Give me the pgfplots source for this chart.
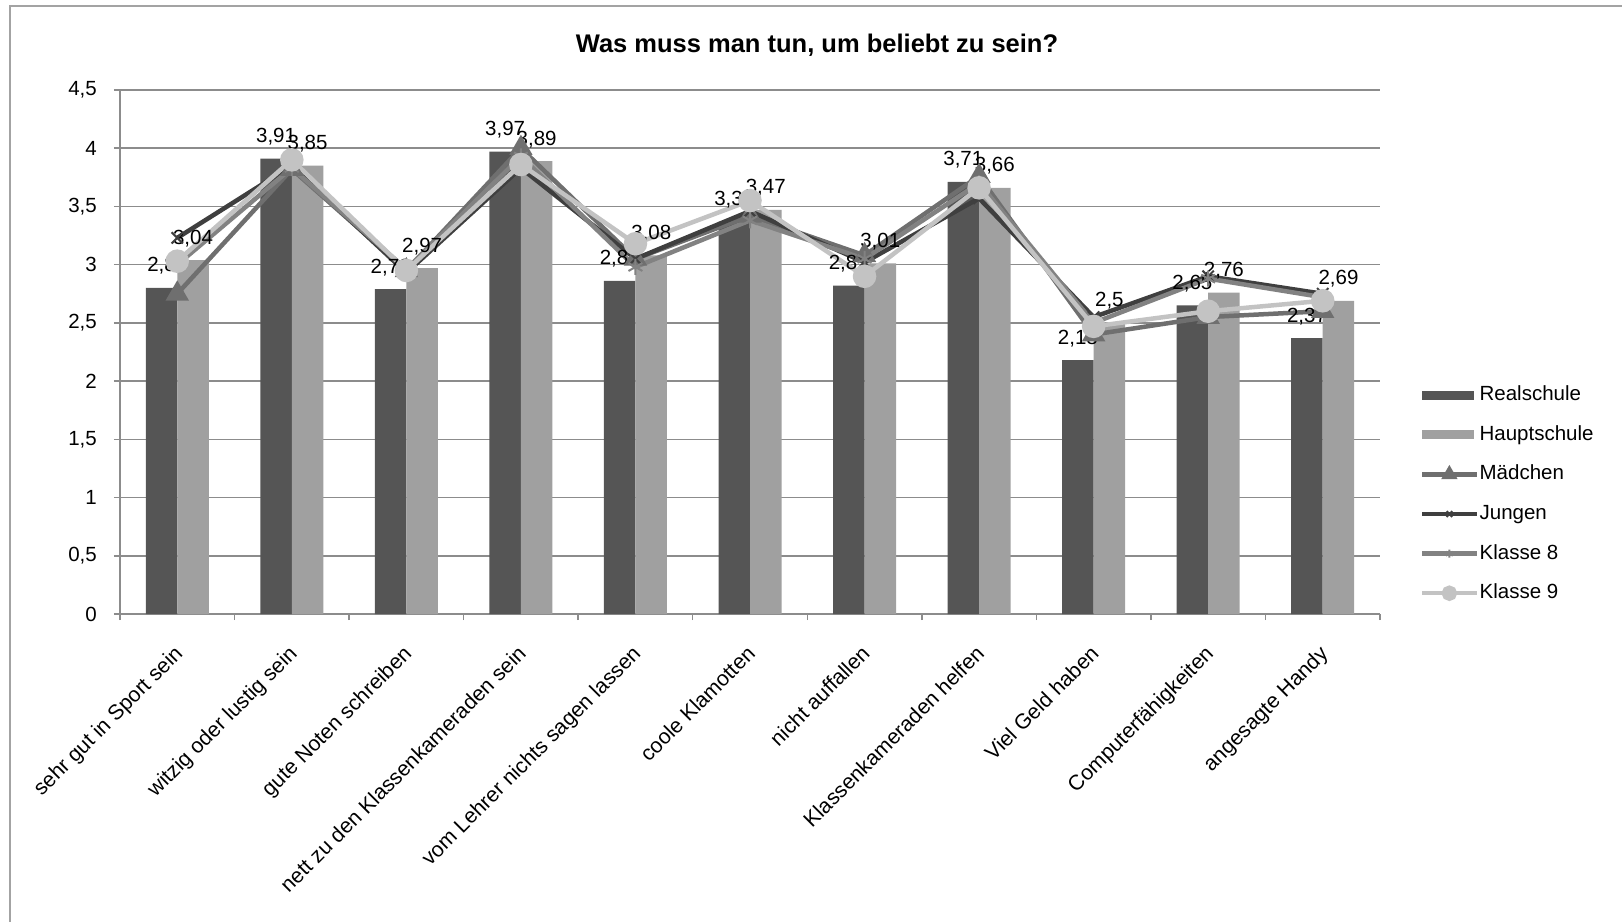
\documentclass[border=0pt]{standalone}
\usepackage{fontspec}
\setmainfont{Liberation Sans}
\usepackage{pgfplots}
\pgfplotsset{compat=1.18}

\definecolor{cReal}{HTML}{555555}
\definecolor{cHaupt}{HTML}{A0A0A0}
\definecolor{cMaed}{HTML}{6F6F6F}
\definecolor{cJung}{HTML}{3F3F3F}
\definecolor{cK8}{HTML}{828282}
\definecolor{cK9}{HTML}{C3C3C3}
\definecolor{cGrid}{HTML}{8C8C8C}

\newcommand{\fs}{\fontsize{20.5}{24}\selectfont}

\begin{document}
\begin{tikzpicture}[x=1pt,y=1pt]
\useasboundingbox (0,0) rectangle (1622,921);
\draw[color=cGrid!80, line width=1.5pt] (10,-10) -- (10,915) -- (1630,915);
\node[font=\fontsize{25.5}{30}\selectfont\bfseries] at (817,876) {Was muss man tun, um beliebt zu sein?};
\begin{axis}[
  at={(120pt,307pt)}, anchor=south west,
  scale only axis, width=1260pt, height=524pt,
  xmin=-0.5, xmax=10.5, ymin=0, ymax=4.5,
  axis lines=left,
  axis line style={-, draw=cGrid, line width=1.5pt},
  ymajorgrids, grid style={draw=cGrid, line width=1.5pt},
  ytick={0,0.5,1,1.5,2,2.5,3,3.5,4,4.5},
  yticklabels={0,{0,5},1,{1,5},2,{2,5},3,{3,5},4,{4,5}},
  xtick={0,1,2,3,4,5,6,7,8,9,10},
  xticklabels={sehr gut in Sport sein, witzig oder lustig sein, gute Noten schreiben, nett zu den Klassenkameraden sein, vom Lehrer nichts sagen lassen, coole Klamotten, nicht auffallen, Klassenkameraden helfen, Viel Geld haben, Computerfähigkeiten, angesagte Handy},
  minor xtick={-0.5,0.5,1.5,2.5,3.5,4.5,5.5,6.5,7.5,8.5,9.5,10.5},
  tick align=outside,
  major tick length=6pt, minor tick length=6pt,
  major x tick style={draw=none},
  minor x tick style={draw=cGrid, line width=1.5pt},
  y tick style={draw=cGrid, line width=1.5pt},
  tick label style={font=\fs},
  yticklabel style={inner sep=0pt, xshift=-17pt},
  xticklabel style={font=\fontsize{21.2}{24}\selectfont, xshift=-4.5pt, yshift=-24pt, rotate=45, anchor=north east, inner sep=0pt},
  clip=false,
  legend style={at={(1.0317,0.436)}, anchor=north west, draw=none, fill=none, font=\fs,
    inner sep=0pt, row sep=20.6pt, column sep=0pt,
    nodes={inner sep=0pt, text height=15pt, text depth=4pt}},
  legend cell align=left,
]
\addplot[ybar, bar width=0.275, bar shift=-0.1375, fill=cReal, draw=none,
  nodes near coords={\pgfmathprintnumber[fixed,precision=2,use comma,assume math mode=true]{\pgfplotspointmeta}},
  every node near coord/.append style={font=\fs, anchor=base, inner sep=0pt, xshift=-15.75pt, yshift=16pt, color=black},
  legend image code/.code={\fill[cReal] (0pt,-4.5pt) rectangle (52pt,4.5pt);}]
  coordinates {(0,2.8) (1,3.91) (2,2.79) (3,3.97) (4,2.86) (5,3.37) (6,2.82) (7,3.71) (8,2.18) (9,2.65) (10,2.37)};
\addlegendentry{Realschule}
\addplot[ybar, bar width=0.275, bar shift=0.1375, fill=cHaupt, draw=none,
  nodes near coords={\pgfmathprintnumber[fixed,precision=2,use comma,assume math mode=true]{\pgfplotspointmeta}},
  every node near coord/.append style={font=\fs, anchor=base, inner sep=0pt, xshift=15.75pt, yshift=16pt, color=black},
  legend image code/.code={\fill[cHaupt] (0pt,-4.5pt) rectangle (52pt,4.5pt);}]
  coordinates {(0,3.04) (1,3.85) (2,2.97) (3,3.89) (4,3.08) (5,3.47) (6,3.01) (7,3.66) (8,2.5) (9,2.76) (10,2.69)};
\addlegendentry{Hauptschule}
\addplot[color=cMaed, line width=4.5pt, mark=triangle*, mark size=9pt, mark options={solid},
  legend image code/.code={\draw[mark repeat=2, mark phase=2, mark size=5pt] plot coordinates {(0pt,0pt) (27pt,0pt) (55pt,0pt)};}]
  coordinates {(0,2.75) (1,3.82) (2,2.95) (3,4.00) (4,3.05) (5,3.42) (6,3.08) (7,3.76) (8,2.40) (9,2.55) (10,2.60)};
\addlegendentry{Mädchen}
\addplot[color=cJung, line width=4.5pt, mark=x, mark size=8pt, mark options={solid, line width=2pt},
  legend image code/.code={\draw[mark repeat=2, mark phase=2, mark size=4pt] plot coordinates {(0pt,0pt) (27pt,0pt) (55pt,0pt)};}]
  coordinates {(0,3.23) (1,3.85) (2,2.93) (3,3.83) (4,3.05) (5,3.46) (6,3.02) (7,3.57) (8,2.55) (9,2.90) (10,2.75)};
\addlegendentry{Jungen}
\addplot[color=cK8, line width=4.5pt, mark=asterisk, mark size=8pt, mark options={solid, line width=2pt},
  legend image code/.code={\draw[mark repeat=2, mark phase=2, mark size=4pt] plot coordinates {(0pt,0pt) (27pt,0pt) (55pt,0pt)};}]
  coordinates {(0,3.00) (1,3.83) (2,2.96) (3,3.93) (4,2.98) (5,3.38) (6,3.05) (7,3.70) (8,2.50) (9,2.88) (10,2.72)};
\addlegendentry{Klasse 8}
\addplot[color=cK9, line width=4.5pt, mark=*, mark size=9.5pt, mark options={solid},
  legend image code/.code={\draw[mark repeat=2, mark phase=2, mark size=5.5pt] plot coordinates {(0pt,0pt) (27pt,0pt) (55pt,0pt)};}]
  coordinates {(0,3.03) (1,3.90) (2,2.95) (3,3.86) (4,3.18) (5,3.55) (6,2.90) (7,3.66) (8,2.47) (9,2.60) (10,2.69)};
\addlegendentry{Klasse 9}
\end{axis}
\end{tikzpicture}
\end{document}
